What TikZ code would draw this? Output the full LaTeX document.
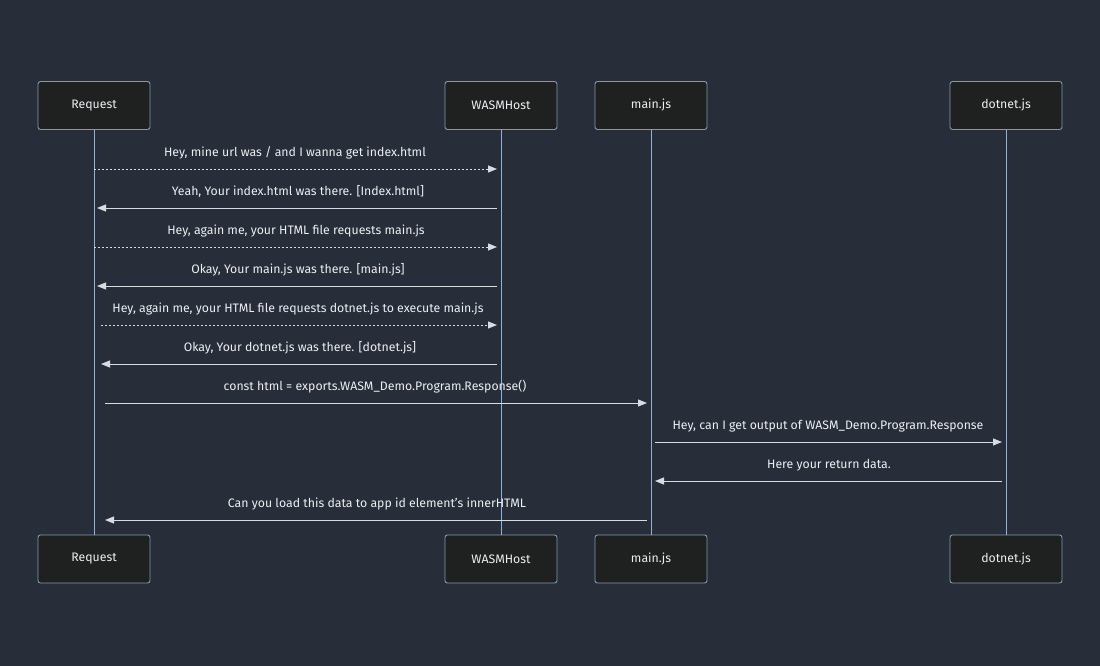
\documentclass[tikz,border=0pt]{standalone}
\usepackage{fontspec}
\setmainfont{Fira Sans}
\usetikzlibrary{arrows.meta}
\definecolor{bg}{HTML}{282E39}
\definecolor{boxfill}{HTML}{1F2020}
\definecolor{boxline}{HTML}{7F9AB5}
\definecolor{life}{HTML}{8DB3DD}
\definecolor{msg}{HTML}{D8DCE2}
\definecolor{txt}{HTML}{ECEEF2}
\tikzset{
  actor/.style={draw=boxline, fill=boxfill, rounded corners=2.5pt, line width=0.9pt,
    minimum width=112pt, minimum height=48pt, inner sep=0pt, text=txt,
    font=\fontsize{12.3pt}{14pt}\selectfont},
  lifeline/.style={draw=life, line width=1pt},
  sync/.style={draw=msg, line width=1pt, -{Triangle[length=9pt,width=7pt]}},
  reply/.style={draw=msg, line width=1pt, dash pattern=on 2pt off 2pt, -{Triangle[length=9pt,width=7pt]}},
  lbl/.style={text=txt, font=\fontsize{12.3pt}{14pt}\selectfont, inner sep=0pt}
}
\begin{document}
\begin{tikzpicture}[x=1pt,y=-1pt]
\fill[bg] (0,0) rectangle (1100,666);
\useasboundingbox (0,0) rectangle (1100,666);
% top actors
\node[actor] (rq) at (94,105.5) {Request};
\node[actor] (wh) at (501,105.5) {WASMHost};
\node[actor] (mj) at (651,105.5) {main.js};
\node[actor] (dn) at (1006,105.5) {dotnet.js};
% bottom actors
\node[actor] (rqb) at (94,559) {Request};
\node[actor] (whb) at (501,559) {WASMHost};
\node[actor] (mjb) at (651,559) {main.js};
\node[actor] (dnb) at (1006,559) {dotnet.js};
% lifelines
\draw[lifeline] (rq.south) -- (rqb.north);
\draw[lifeline] (wh.south) -- (whb.north);
\draw[lifeline] (mj.south) -- (mjb.north);
\draw[lifeline] (dn.south) -- (dnb.north);
% messages
\draw[reply] (rq |- 0,169) -- ([xshift=-4pt]wh |- 0,169);
\node[lbl] (l1) at (295,153) {Hey, mine url was / and I wanna get index.html};
\draw[sync] ([xshift=-4pt]wh |- 0,208) -- ([xshift=3pt]rq |- 0,208);
\node[lbl] (l2) at (298,192) {Yeah, Your index.html was there. [Index.html]};
\draw[reply] (rq |- 0,247) -- ([xshift=-4pt]wh |- 0,247);
\node[lbl] (l3) at (296,231) {Hey, again me, your HTML file requests main.js};
\draw[sync] ([xshift=-4pt]wh |- 0,286) -- ([xshift=3pt]rq |- 0,286);
\node[lbl] (l4) at (298,270) {Okay, Your main.js was there. [main.js]};
\draw[reply] ([xshift=7pt]rq |- 0,325) -- ([xshift=-4pt]wh |- 0,325);
\node[lbl] (l5) at (298,309) {Hey, again me, your HTML file requests dotnet.js to execute main.js};
\draw[sync] ([xshift=-4pt]wh |- 0,364) -- ([xshift=7pt]rq |- 0,364);
\node[lbl] (l6) at (300,348) {Okay, Your dotnet.js was there. [dotnet.js]};
\draw[sync] ([xshift=11pt]rq |- 0,403) -- ([xshift=-4pt]mj |- 0,403);
\node[lbl] (l7) at (375,387) {const html = exports.WASM\_Demo.Program.Response()};
\draw[sync] ([xshift=4pt]mj |- 0,442) -- ([xshift=-4pt]dn |- 0,442);
\node[lbl] (l8) at (828,426) {Hey, can I get output of WASM\_Demo.Program.Response};
\draw[sync] ([xshift=-4pt]dn |- 0,481) -- ([xshift=4pt]mj |- 0,481);
\node[lbl] (l9) at (829,465) {Here your return data.};
\draw[sync] ([xshift=-4pt]mj |- 0,520) -- ([xshift=11pt]rq |- 0,520);
\node[lbl] (l10) at (377,504) {Can you load this data to app id element's innerHTML};
\end{tikzpicture}
\end{document}
